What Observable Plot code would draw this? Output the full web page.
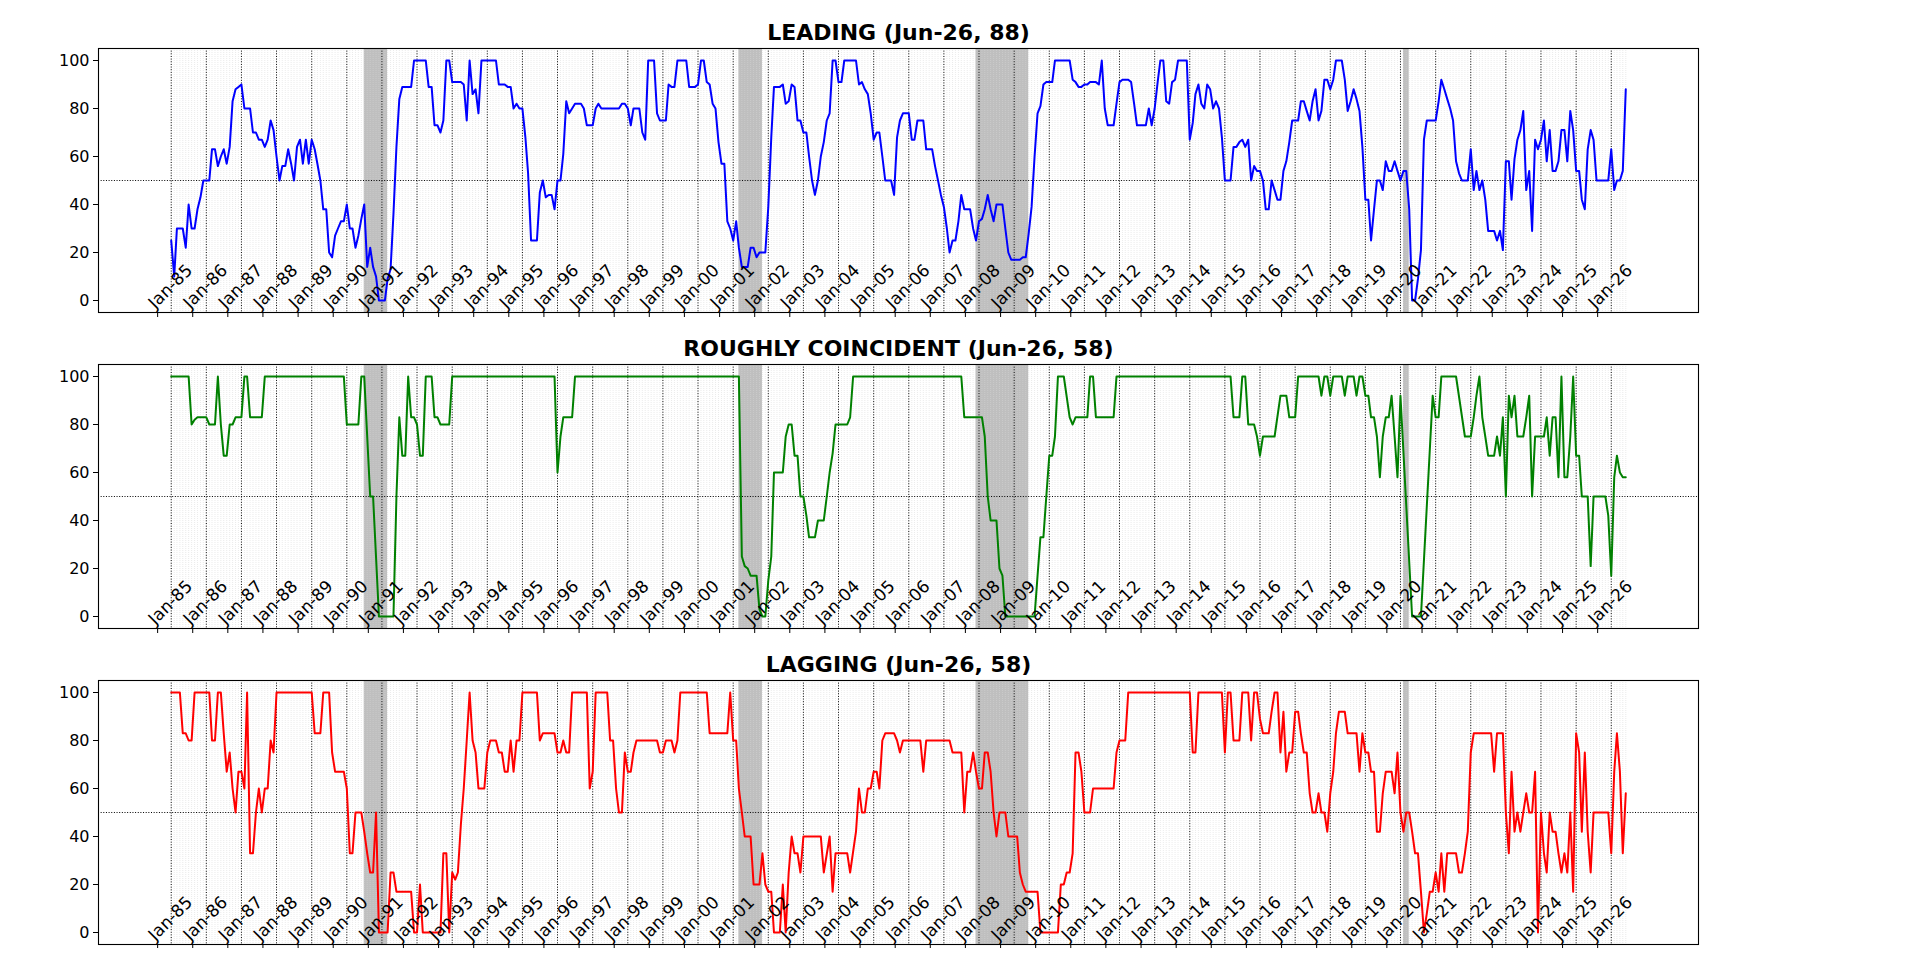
<!DOCTYPE html>
<html><head><meta charset="utf-8">
<script src="https://cdn.jsdelivr.net/npm/d3@7"></script>
<script src="https://cdn.jsdelivr.net/npm/@observablehq/plot@0.6"></script>
<style>body{margin:0;background:#fff;} svg{display:block;overflow:visible}</style>
</head><body><div id="chart"></div>
<script>
const leading = [["1985-01",25],["1985-02",10],["1985-03",30],["1985-05",30],["1985-06",22],["1985-07",40],["1985-08",30],["1985-09",30],["1985-10",38],["1985-11",43],["1985-12",50],["1986-02",50],["1986-03",63],["1986-04",63],["1986-05",56],["1986-06",60],["1986-07",63],["1986-08",57],["1986-09",64],["1986-10",83],["1986-11",88],["1986-12",89],["1987-01",90],["1987-02",80],["1987-04",80],["1987-05",70],["1987-06",70],["1987-07",67],["1987-08",67],["1987-09",64],["1987-10",67],["1987-11",75],["1987-12",71],["1988-01",60],["1988-02",50],["1988-03",56],["1988-04",56],["1988-05",63],["1988-06",57],["1988-07",50],["1988-08",64],["1988-09",67],["1988-10",57],["1988-11",67],["1988-12",57],["1989-01",67],["1989-02",63],["1989-03",57],["1989-04",50],["1989-05",38],["1989-06",38],["1989-07",20],["1989-08",18],["1989-09",27],["1989-10",30],["1989-11",33],["1989-12",33],["1990-01",40],["1990-02",30],["1990-03",30],["1990-04",22],["1990-05",27],["1990-06",34],["1990-07",40],["1990-08",14],["1990-09",22],["1990-10",14],["1990-11",10],["1990-12",0],["1991-02",0],["1991-03",9],["1991-04",13],["1991-05",36],["1991-06",64],["1991-07",84],["1991-08",89],["1991-11",89],["1991-12",100],["1992-04",100],["1992-05",89],["1992-06",89],["1992-07",73],["1992-08",73],["1992-09",70],["1992-10",75],["1992-11",100],["1992-12",100],["1993-01",91],["1993-04",91],["1993-05",90],["1993-06",75],["1993-07",100],["1993-08",86],["1993-09",88],["1993-10",78],["1993-11",100],["1994-04",100],["1994-05",90],["1994-07",90],["1994-08",89],["1994-09",89],["1994-10",80],["1994-11",82],["1994-12",80],["1995-01",80],["1995-02",68],["1995-03",53],["1995-04",25],["1995-06",25],["1995-07",45],["1995-08",50],["1995-09",43],["1995-10",44],["1995-11",44],["1995-12",38],["1996-01",50],["1996-02",50],["1996-03",61],["1996-04",83],["1996-05",78],["1996-06",80],["1996-07",82],["1996-09",82],["1996-10",80],["1996-11",73],["1997-01",73],["1997-02",80],["1997-03",82],["1997-04",80],["1997-10",80],["1997-11",82],["1997-12",82],["1998-01",80],["1998-02",73],["1998-03",80],["1998-05",80],["1998-06",70],["1998-07",67],["1998-08",100],["1998-10",100],["1998-11",78],["1998-12",75],["1999-02",75],["1999-03",90],["1999-04",89],["1999-05",89],["1999-06",100],["1999-09",100],["1999-10",89],["1999-12",89],["2000-01",90],["2000-02",100],["2000-03",100],["2000-04",91],["2000-05",90],["2000-06",82],["2000-07",80],["2000-08",66],["2000-09",57],["2000-10",57],["2000-11",33],["2000-12",30],["2001-01",25],["2001-02",33],["2001-03",22],["2001-04",14],["2001-06",14],["2001-07",22],["2001-08",22],["2001-09",18],["2001-10",20],["2001-12",20],["2002-01",39],["2002-02",68],["2002-03",89],["2002-05",89],["2002-06",90],["2002-07",82],["2002-08",83],["2002-09",90],["2002-10",89],["2002-11",75],["2002-12",75],["2003-01",70],["2003-02",70],["2003-03",60],["2003-04",50],["2003-05",44],["2003-06",50],["2003-07",60],["2003-08",66],["2003-09",75],["2003-10",78],["2003-11",100],["2003-12",100],["2004-01",91],["2004-02",91],["2004-03",100],["2004-07",100],["2004-08",90],["2004-09",91],["2004-10",88],["2004-11",86],["2004-12",78],["2005-01",67],["2005-02",70],["2005-03",70],["2005-04",60],["2005-05",50],["2005-07",50],["2005-08",44],["2005-09",68],["2005-10",75],["2005-11",78],["2006-01",78],["2006-02",67],["2006-03",67],["2006-04",75],["2006-06",75],["2006-07",63],["2006-09",63],["2006-10",56],["2006-11",50],["2006-12",44],["2007-01",39],["2007-02",30],["2007-03",20],["2007-04",25],["2007-05",25],["2007-06",33],["2007-07",44],["2007-08",38],["2007-10",38],["2007-11",30],["2007-12",25],["2008-01",33],["2008-02",34],["2008-03",38],["2008-04",44],["2008-05",38],["2008-06",33],["2008-07",40],["2008-09",40],["2008-10",30],["2008-11",20],["2008-12",17],["2009-03",17],["2009-04",18],["2009-05",18],["2009-06",28],["2009-07",39],["2009-08",60],["2009-09",78],["2009-10",81],["2009-11",90],["2009-12",91],["2010-02",91],["2010-03",100],["2010-08",100],["2010-09",92],["2010-10",91],["2010-11",89],["2010-12",89],["2011-01",90],["2011-02",90],["2011-03",91],["2011-05",91],["2011-06",90],["2011-07",100],["2011-08",80],["2011-09",73],["2011-11",73],["2011-12",82],["2012-01",91],["2012-02",92],["2012-04",92],["2012-05",91],["2012-06",82],["2012-07",73],["2012-10",73],["2012-11",80],["2012-12",73],["2013-01",80],["2013-02",91],["2013-03",100],["2013-04",100],["2013-05",83],["2013-06",82],["2013-07",91],["2013-08",92],["2013-09",100],["2013-12",100],["2014-01",67],["2014-02",74],["2014-03",86],["2014-04",90],["2014-05",82],["2014-06",80],["2014-07",90],["2014-08",88],["2014-09",80],["2014-10",83],["2014-11",80],["2014-12",68],["2015-01",50],["2015-03",50],["2015-04",64],["2015-05",64],["2015-06",66],["2015-07",67],["2015-08",64],["2015-09",67],["2015-10",50],["2015-11",56],["2015-12",54],["2016-01",54],["2016-02",50],["2016-03",38],["2016-04",38],["2016-05",50],["2016-06",46],["2016-07",42],["2016-08",42],["2016-09",54],["2016-10",58],["2016-11",66],["2016-12",75],["2017-02",75],["2017-03",83],["2017-04",83],["2017-05",79],["2017-06",75],["2017-07",83],["2017-08",88],["2017-09",75],["2017-10",79],["2017-11",92],["2017-12",92],["2018-01",88],["2018-02",92],["2018-03",100],["2018-05",100],["2018-06",92],["2018-07",79],["2018-08",83],["2018-09",88],["2018-10",84],["2018-11",79],["2018-12",64],["2019-01",42],["2019-02",42],["2019-03",25],["2019-04",38],["2019-05",50],["2019-06",50],["2019-07",46],["2019-08",58],["2019-09",54],["2019-10",54],["2019-11",58],["2019-12",54],["2020-01",50],["2020-02",54],["2020-03",54],["2020-04",38],["2020-05",0],["2020-06",0],["2020-07",9],["2020-08",21],["2020-09",67],["2020-10",75],["2021-01",75],["2021-02",83],["2021-03",92],["2021-04",88],["2021-05",84],["2021-06",80],["2021-07",75],["2021-08",58],["2021-09",53],["2021-10",50],["2021-12",50],["2022-01",63],["2022-02",46],["2022-03",54],["2022-04",46],["2022-05",50],["2022-06",42],["2022-07",29],["2022-09",29],["2022-10",25],["2022-11",29],["2022-12",21],["2023-01",58],["2023-02",58],["2023-03",42],["2023-04",59],["2023-05",67],["2023-06",71],["2023-07",79],["2023-08",46],["2023-09",54],["2023-10",29],["2023-11",67],["2023-12",63],["2024-01",67],["2024-02",75],["2024-03",58],["2024-04",71],["2024-05",54],["2024-06",54],["2024-07",58],["2024-08",71],["2024-09",71],["2024-10",58],["2024-11",79],["2024-12",71],["2025-01",54],["2025-02",54],["2025-03",42],["2025-04",38],["2025-05",63],["2025-06",71],["2025-07",67],["2025-08",50],["2025-12",50],["2026-01",63],["2026-02",46],["2026-03",50],["2026-04",50],["2026-05",54],["2026-06",88]];

const coincident = [["1985-01",100],["1985-07",100],["1985-08",80],["1985-09",82],["1985-10",83],["1986-01",83],["1986-02",80],["1986-04",80],["1986-05",100],["1986-06",80],["1986-07",67],["1986-08",67],["1986-09",80],["1986-10",80],["1986-11",83],["1987-01",83],["1987-02",100],["1987-03",100],["1987-04",83],["1987-08",83],["1987-09",100],["1989-12",100],["1990-01",80],["1990-05",80],["1990-06",100],["1990-07",100],["1990-09",50],["1990-10",50],["1990-12",0],["1991-05",0],["1991-06",50],["1991-07",83],["1991-08",67],["1991-09",67],["1991-10",100],["1991-11",83],["1991-12",83],["1992-01",80],["1992-02",67],["1992-03",67],["1992-04",100],["1992-06",100],["1992-07",83],["1992-08",83],["1992-09",80],["1992-12",80],["1993-01",100],["1995-12",100],["1996-01",60],["1996-02",75],["1996-03",83],["1996-06",83],["1996-07",100],["2001-03",100],["2001-04",25],["2001-05",21],["2001-06",20],["2001-07",17],["2001-09",17],["2001-10",3],["2001-11",0],["2001-12",0],["2002-01",15],["2002-02",25],["2002-03",60],["2002-06",60],["2002-07",75],["2002-08",80],["2002-09",80],["2002-10",67],["2002-11",67],["2002-12",50],["2003-01",50],["2003-02",42],["2003-03",33],["2003-05",33],["2003-06",40],["2003-08",40],["2003-09",50],["2003-10",60],["2003-11",68],["2003-12",80],["2004-04",80],["2004-05",83],["2004-06",100],["2007-07",100],["2007-08",83],["2008-02",83],["2008-03",75],["2008-04",50],["2008-05",40],["2008-07",40],["2008-08",20],["2008-09",17],["2008-10",0],["2009-08",0],["2009-09",17],["2009-10",33],["2009-11",33],["2009-12",50],["2010-01",67],["2010-02",67],["2010-03",75],["2010-04",100],["2010-06",100],["2010-08",83],["2010-09",80],["2010-10",83],["2011-02",83],["2011-03",100],["2011-04",100],["2011-05",83],["2011-11",83],["2011-12",100],["2015-03",100],["2015-04",83],["2015-06",83],["2015-07",100],["2015-08",100],["2015-09",80],["2015-11",80],["2015-12",75],["2016-01",67],["2016-02",75],["2016-06",75],["2016-08",92],["2016-10",92],["2016-11",83],["2017-01",83],["2017-02",100],["2017-09",100],["2017-10",92],["2017-11",100],["2017-12",100],["2018-01",92],["2018-02",100],["2018-05",100],["2018-06",92],["2018-07",100],["2018-09",100],["2018-10",92],["2018-11",100],["2018-12",100],["2019-01",92],["2019-02",92],["2019-03",83],["2019-04",83],["2019-05",75],["2019-06",58],["2019-07",75],["2019-08",83],["2019-09",83],["2019-10",92],["2019-11",75],["2019-12",58],["2020-01",92],["2020-05",0],["2020-08",0],["2020-12",92],["2021-01",83],["2021-02",83],["2021-03",100],["2021-08",100],["2021-11",75],["2022-01",75],["2022-02",83],["2022-03",92],["2022-04",100],["2022-05",83],["2022-06",75],["2022-07",67],["2022-09",67],["2022-10",75],["2022-11",67],["2022-12",83],["2023-01",50],["2023-02",92],["2023-03",83],["2023-04",92],["2023-05",75],["2023-07",75],["2023-08",83],["2023-09",92],["2023-10",50],["2023-11",75],["2024-02",75],["2024-03",83],["2024-04",67],["2024-05",83],["2024-06",83],["2024-07",58],["2024-08",100],["2024-09",58],["2024-10",58],["2024-11",75],["2024-12",100],["2025-01",67],["2025-02",67],["2025-03",50],["2025-05",50],["2025-06",21],["2025-07",50],["2025-11",50],["2025-12",42],["2026-01",17],["2026-02",58],["2026-03",67],["2026-04",60],["2026-05",58],["2026-06",58]];

const lagging = [["1985-01",100],["1985-04",100],["1985-05",83],["1985-06",83],["1985-07",80],["1985-08",80],["1985-09",100],["1986-02",100],["1986-03",80],["1986-04",80],["1986-05",100],["1986-06",100],["1986-07",83],["1986-08",67],["1986-09",75],["1986-10",60],["1986-11",50],["1986-12",67],["1987-01",67],["1987-02",60],["1987-03",100],["1987-04",33],["1987-05",33],["1987-06",50],["1987-07",60],["1987-08",50],["1987-09",60],["1987-10",60],["1987-11",80],["1987-12",75],["1988-01",100],["1989-01",100],["1989-02",83],["1989-04",83],["1989-05",100],["1989-07",100],["1989-08",75],["1989-09",67],["1989-12",67],["1990-01",60],["1990-02",33],["1990-03",33],["1990-04",50],["1990-06",50],["1990-07",42],["1990-08",33],["1990-09",25],["1990-10",25],["1990-11",50],["1990-12",0],["1991-03",0],["1991-04",25],["1991-05",25],["1991-06",17],["1991-11",17],["1991-12",0],["1992-01",0],["1992-02",20],["1992-03",0],["1992-09",0],["1992-10",33],["1992-11",33],["1992-12",0],["1993-01",25],["1993-02",22],["1993-03",25],["1993-04",45],["1993-05",60],["1993-06",80],["1993-07",100],["1993-08",80],["1993-09",75],["1993-10",60],["1993-12",60],["1994-01",75],["1994-02",80],["1994-04",80],["1994-05",75],["1994-06",75],["1994-07",67],["1994-08",67],["1994-09",80],["1994-10",67],["1994-11",80],["1994-12",80],["1995-01",100],["1995-06",100],["1995-07",80],["1995-08",83],["1995-12",83],["1996-01",75],["1996-02",75],["1996-03",80],["1996-04",75],["1996-05",75],["1996-06",100],["1996-11",100],["1996-12",60],["1997-01",67],["1997-02",100],["1997-06",100],["1997-07",80],["1997-08",80],["1997-09",60],["1997-10",50],["1997-11",50],["1997-12",75],["1998-01",67],["1998-02",67],["1998-03",75],["1998-04",80],["1998-11",80],["1998-12",75],["1999-01",75],["1999-02",80],["1999-04",80],["1999-05",75],["1999-06",80],["1999-07",100],["2000-04",100],["2000-05",83],["2000-11",83],["2000-12",100],["2001-01",80],["2001-02",80],["2001-03",60],["2001-04",50],["2001-05",40],["2001-07",40],["2001-08",20],["2001-10",20],["2001-11",33],["2001-12",20],["2002-01",17],["2002-02",17],["2002-03",0],["2002-05",0],["2002-06",20],["2002-07",0],["2002-08",25],["2002-09",40],["2002-10",33],["2002-11",33],["2002-12",25],["2003-01",40],["2003-07",40],["2003-08",25],["2003-10",40],["2003-11",17],["2003-12",33],["2004-04",33],["2004-05",25],["2004-07",42],["2004-08",60],["2004-09",50],["2004-10",50],["2004-11",60],["2004-12",60],["2005-01",67],["2005-02",67],["2005-03",60],["2005-04",80],["2005-05",83],["2005-08",83],["2005-09",80],["2005-10",75],["2005-11",80],["2006-05",80],["2006-06",67],["2006-07",80],["2007-03",80],["2007-04",75],["2007-07",75],["2007-08",50],["2007-09",67],["2007-10",67],["2007-11",75],["2007-12",67],["2008-01",60],["2008-02",60],["2008-03",75],["2008-04",75],["2008-05",67],["2008-06",50],["2008-07",40],["2008-08",50],["2008-10",50],["2008-11",40],["2009-02",40],["2009-03",25],["2009-04",20],["2009-05",17],["2009-09",17],["2009-10",0],["2010-04",0],["2010-05",20],["2010-06",20],["2010-07",25],["2010-08",25],["2010-09",33],["2010-10",75],["2010-11",75],["2010-12",67],["2011-01",50],["2011-03",50],["2011-04",60],["2011-11",60],["2011-12",75],["2012-01",80],["2012-03",80],["2012-04",100],["2014-01",100],["2014-02",75],["2014-03",75],["2014-04",100],["2014-12",100],["2015-01",75],["2015-02",100],["2015-03",100],["2015-04",80],["2015-06",80],["2015-07",100],["2015-09",100],["2015-10",80],["2015-11",100],["2015-12",100],["2016-01",89],["2016-02",83],["2016-04",83],["2016-05",92],["2016-06",100],["2016-07",100],["2016-08",75],["2016-09",92],["2016-10",67],["2016-11",75],["2016-12",75],["2017-01",92],["2017-02",92],["2017-03",83],["2017-04",75],["2017-05",75],["2017-06",58],["2017-07",50],["2017-08",50],["2017-09",58],["2017-10",50],["2017-11",50],["2017-12",42],["2018-01",58],["2018-02",67],["2018-03",83],["2018-04",92],["2018-06",92],["2018-07",83],["2018-10",83],["2018-11",67],["2018-12",83],["2019-01",75],["2019-02",75],["2019-03",67],["2019-04",67],["2019-05",42],["2019-06",42],["2019-07",58],["2019-08",67],["2019-10",67],["2019-11",58],["2019-12",75],["2020-01",50],["2020-02",42],["2020-03",50],["2020-04",50],["2020-05",42],["2020-06",33],["2020-07",33],["2020-08",17],["2020-09",0],["2020-10",8],["2020-11",17],["2020-12",17],["2021-01",25],["2021-02",17],["2021-03",33],["2021-04",17],["2021-05",33],["2021-08",33],["2021-09",25],["2021-10",25],["2021-11",33],["2021-12",42],["2022-01",75],["2022-02",83],["2022-08",83],["2022-09",67],["2022-10",83],["2022-12",83],["2023-01",50],["2023-02",33],["2023-03",67],["2023-04",42],["2023-05",50],["2023-06",42],["2023-07",50],["2023-08",58],["2023-09",50],["2023-10",50],["2023-11",67],["2023-12",0],["2024-01",50],["2024-02",33],["2024-03",25],["2024-04",50],["2024-05",42],["2024-06",42],["2024-07",33],["2024-08",25],["2024-09",33],["2024-10",25],["2024-11",50],["2024-12",17],["2025-01",83],["2025-02",75],["2025-03",42],["2025-04",75],["2025-05",42],["2025-06",25],["2025-07",50],["2025-12",50],["2026-01",33],["2026-02",67],["2026-03",83],["2026-04",67],["2026-05",33],["2026-06",58]];

const recessions = [["1990-07","1991-03"],["2001-03","2001-11"],["2007-12","2009-06"],["2020-02","2020-04"]];
const panelNames = ["LEADING", "ROUGHLY COINCIDENT", "LAGGING"];
const panelColors = ["#0000ff", "#008000", "#ff0000"];
const yTicks = [0, 20, 40, 60, 80, 100];
const lastLabel = "Jun-26";

const parse = s => { const [y, m] = s.split("-").map(Number); return new Date(Date.UTC(y, m - 1, 1)); };
const start = parse("1985-01"), end = parse("2026-06");
const span = end - start;
const xDomain = [new Date(+start - 0.05 * span), new Date(+end + 0.05 * span)];
const janTicks = d3.utcYear.range(start, new Date(Date.UTC(2026, 1, 1)));
const months = d3.utcMonth.range(start, d3.utcMonth.offset(end, 1));
const fmt = d => "Jan-" + String(d.getUTCFullYear()).slice(2);
const FONT = "DejaVu Sans";

function panel(series, name, color) {
  const data = series.map(([d, v]) => ({date: parse(d), value: v}));
  const title = `${name} (${lastLabel}, ${series[series.length - 1][1]})`;
  return Plot.plot({
    width: 1920, height: 316,
    marginLeft: 98, marginRight: 222, marginTop: 48, marginBottom: 4,
    style: {fontFamily: FONT, fontSize: "16px", overflow: "visible", background: "white", color: "black"},
    x: {type: "utc", domain: xDomain},
    y: {domain: [-5, 105]},
    marks: [
      Plot.rect(recessions, {x1: d => parse(d[0]), x2: d => parse(d[1]), y1: () => -5, y2: () => 105, fill: "#bfbfbf"}),
      Plot.ruleX(months, {x: d => d, stroke: "#d6d6d6", strokeWidth: 0.5, strokeDasharray: "1,1"}),
      Plot.ruleX(janTicks, {x: d => d, stroke: "black", strokeWidth: 1, strokeDasharray: "1,1.65"}),
      Plot.ruleY([50], {stroke: "black", strokeWidth: 1, strokeDasharray: "1,1.65"}),
      Plot.line(data, {x: "date", y: "value", stroke: color, strokeWidth: 2}),
      Plot.frame({stroke: "black", strokeWidth: 1.1}),
      Plot.axisY({ticks: yTicks, tickSize: 5, tickPadding: 4, fontSize: 16, label: null}),
      Plot.axisX({ticks: janTicks, tickSize: 5, tickFormat: () => "", dx: -13.6, label: null}),
      Plot.text(janTicks, {x: d => d, frameAnchor: "bottom", text: fmt, rotate: -45, textAnchor: "start", lineAnchor: "bottom", dx: -16, dy: -3, fontSize: 17, fill: "black"}),
      Plot.text([title], {text: d => d, frameAnchor: "top", dy: -9, lineAnchor: "bottom", fontSize: 22, fontWeight: "bold", fill: "black"})
    ]
  });
}

const host = document.getElementById("chart");
[leading, coincident, lagging].forEach((s, i) => host.append(panel(s, panelNames[i], panelColors[i])));
</script>
</body></html>
